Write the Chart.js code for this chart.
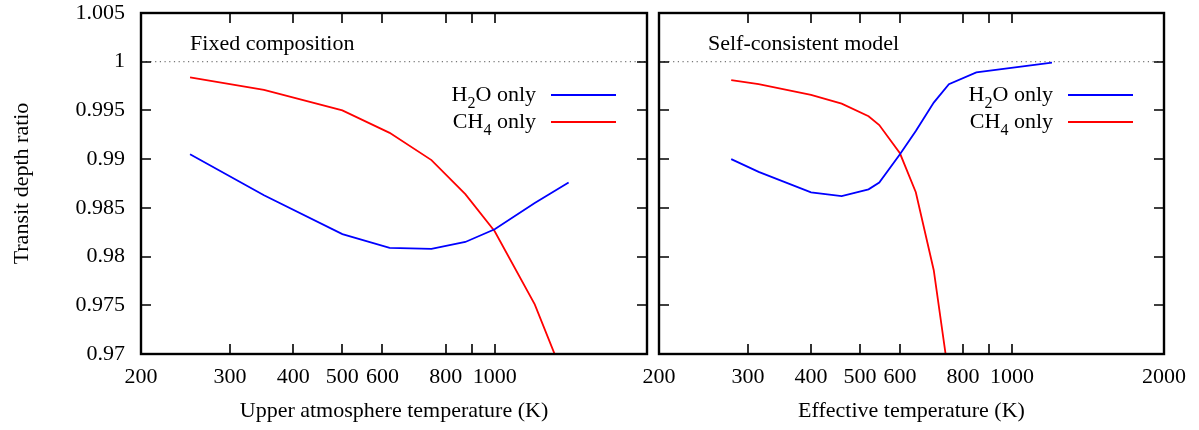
<!DOCTYPE html>
<html>
<head>
<meta charset="utf-8">
<script src="https://cdn.jsdelivr.net/npm/chart.js@4.4.1/dist/chart.umd.min.js"></script>
<style>
  html, body { margin: 0; padding: 0; background: #fff; width: 1199px; height: 430px; overflow: hidden; }
  canvas { position: absolute; top: 0; }
  #leftChart { left: 0; }
  #rightChart { left: 620px; }
</style>
</head>
<body>
<canvas id="leftChart" width="660" height="430"></canvas>
<canvas id="rightChart" width="579" height="430"></canvas>
<script>
// tick values / labels
const xTickValues = [200, 300, 400, 500, 600, 800, 900, 1000, 2000];
const xLabelsLeft = [200, 300, 400, 500, 600, 800, 1000];
const xLabelsRight = [200, 300, 400, 500, 600, 800, 1000, 2000];
const yTickValues = [0.97, 0.975, 0.98, 0.985, 0.99, 0.995, 1, 1.005];
const yTickLabels = ["0.97", "0.975", "0.98", "0.985", "0.99", "0.995", "1", "1.005"];

// fixed composition panel
const fixedTemps = [250, 350, 500, 620, 750, 875, 1000, 1200, 1400];
const fixedH2O = [0.9905, 0.9863, 0.9823, 0.9809, 0.9808, 0.9815, 0.9828, 0.9855, 0.9876];
const fixedCH4 = [0.9984, 0.9971, 0.9950, 0.9927, 0.9899, 0.9864, 0.9826, 0.9751, 0.9664];

// self-consistent panel
const selfTempsH2O = [278, 315, 400, 460, 520, 546, 600, 645, 700, 750, 850, 1200];
const selfH2O = [0.9900, 0.9887, 0.9866, 0.9862, 0.9869, 0.9876, 0.9905, 0.9929, 0.9958, 0.9977, 0.9989, 0.9999];
const selfTempsCH4 = [278, 315, 400, 460, 520, 546, 600, 645, 700, 750];
const selfCH4 = [0.9981, 0.9977, 0.9966, 0.9957, 0.9944, 0.9935, 0.9906, 0.9866, 0.9786, 0.9676];

// reference line at ratio 1
const refTemps = [200, 2000];
const refValues = [1, 1];

const BLUE = "#0000ff";
const RED = "#ff0000";
const FONT = "'Liberation Serif', 'Times New Roman', serif";

Chart.defaults.font.family = FONT;
Chart.defaults.font.size = 22;
Chart.defaults.color = "#000";

function toPoints(xs, ys) {
  return xs.map((x, i) => ({ x, y: ys[i] }));
}

// gnuplot-ish frame: box, inward ticks on all sides, panel label, legend with subscripts
const framePlugin = {
  id: "gnuFrame",
  afterDatasetsDraw(chart, args, opts) {
    const { ctx, chartArea: a, scales } = chart;
    ctx.save();
    ctx.strokeStyle = "#000";
    ctx.lineWidth = 1.6;
    ctx.beginPath();
    scales.x.ticks.forEach(t => {
      const px = Math.round(scales.x.getPixelForValue(t.value));
      ctx.moveTo(px, a.bottom); ctx.lineTo(px, a.bottom - 10);
      ctx.moveTo(px, a.top); ctx.lineTo(px, a.top + 10);
    });
    scales.y.ticks.forEach(t => {
      const py = Math.round(scales.y.getPixelForValue(t.value));
      ctx.moveTo(a.left, py); ctx.lineTo(a.left + 10, py);
      ctx.moveTo(a.right, py); ctx.lineTo(a.right - 10, py);
    });
    ctx.stroke();
    ctx.lineWidth = 2.4;
    ctx.strokeRect(a.left, a.top, a.width, a.height);

    ctx.fillStyle = "#000";
    ctx.textBaseline = "alphabetic";
    ctx.textAlign = "left";
    ctx.font = "22px " + FONT;
    ctx.fillText(opts.title, scales.x.getPixelForValue(250), a.top + 37);

    const lineEnd = a.right - 31;
    const lineStart = lineEnd - 65;
    const textRight = lineStart - 15;
    opts.legend.forEach((item, i) => {
      const lineY = a.top + 82 + i * 27;
      const base = lineY + 6;
      ctx.font = "22px " + FONT;
      const w1 = ctx.measureText(item.parts[0]).width;
      const w3 = ctx.measureText(item.parts[2]).width;
      ctx.font = "16px " + FONT;
      const w2 = ctx.measureText(item.parts[1]).width;
      let x = textRight - (w1 + w2 + w3);
      ctx.font = "22px " + FONT;
      ctx.fillText(item.parts[0], x, base);
      x += w1;
      ctx.font = "16px " + FONT;
      ctx.fillText(item.parts[1], x, base + 7);
      x += w2;
      ctx.font = "22px " + FONT;
      ctx.fillText(item.parts[2], x, base);

      ctx.strokeStyle = item.color;
      ctx.lineWidth = 1.8;
      ctx.beginPath();
      ctx.moveTo(lineStart, lineY);
      ctx.lineTo(lineEnd, lineY);
      ctx.stroke();
    });
    ctx.restore();
  }
};

const legendItems = [
  { parts: ["H", "2", "O only"], color: BLUE },
  { parts: ["CH", "4", " only"], color: RED },
];

function lineSet(points, color) {
  return { data: points, borderColor: color, borderWidth: 1.8, pointRadius: 0, tension: 0, fill: false };
}

function makeChart(canvas, cfg) {
  return new Chart(canvas, {
    type: "line",
    data: {
      datasets: [
        { data: toPoints(refTemps, refValues), borderColor: "#555", borderWidth: 1, borderDash: [1.2, 3.5], pointRadius: 0 },
        lineSet(cfg.h2o, BLUE),
        lineSet(cfg.ch4, RED),
      ],
    },
    options: {
      responsive: false,
      animation: false,
      events: [],
      layout: { padding: { top: 13, right: cfg.padRight, left: 0, bottom: 0 } },
      plugins: {
        legend: { display: false },
        tooltip: { enabled: false },
        gnuFrame: { title: cfg.title, legend: legendItems },
      },
      scales: {
        x: {
          type: "logarithmic",
          min: 200,
          max: 2000,
          afterBuildTicks: s => { s.ticks = xTickValues.map(v => ({ value: v })); },
          afterFit: s => { s.height = 76; },
          ticks: {
            autoSkip: false,
            maxRotation: 0,
            padding: 10,
            callback: v => (cfg.xLabels.includes(v) ? String(v) : ""),
          },
          grid: { display: false, drawTicks: false },
          border: { display: false },
          title: { display: true, text: cfg.xTitle, padding: { top: 0, bottom: 6 } },
        },
        y: {
          min: 0.97,
          max: 1.005,
          afterBuildTicks: s => { s.ticks = yTickValues.map(v => ({ value: v })); },
          afterFit: s => {
            s.width = cfg.yWidth;
            s.paddingTop = 0;
            s.paddingBottom = 0;
          },
          ticks: {
            padding: 16,
            callback: (v, i) => (cfg.yLabels ? yTickLabels[i] : ""),
          },
          grid: { display: false, drawTicks: false },
          border: { display: false },
          title: { display: cfg.yLabels, text: "Transit depth ratio", padding: { top: 9, bottom: 0 } },
        },
      },
    },
    plugins: [framePlugin],
  });
}

makeChart(document.getElementById("leftChart"), {
  h2o: toPoints(fixedTemps, fixedH2O),
  ch4: toPoints(fixedTemps, fixedCH4),
  title: "Fixed composition",
  xTitle: "Upper atmosphere temperature (K)",
  xLabels: xLabelsLeft,
  yLabels: true,
  yWidth: 141,
  padRight: 13,
});

makeChart(document.getElementById("rightChart"), {
  h2o: toPoints(selfTempsH2O, selfH2O),
  ch4: toPoints(selfTempsCH4, selfCH4),
  title: "Self-consistent model",
  xTitle: "Effective temperature (K)",
  xLabels: xLabelsRight,
  yLabels: false,
  yWidth: 39,
  padRight: 35,
});
</script>
</body>
</html>
